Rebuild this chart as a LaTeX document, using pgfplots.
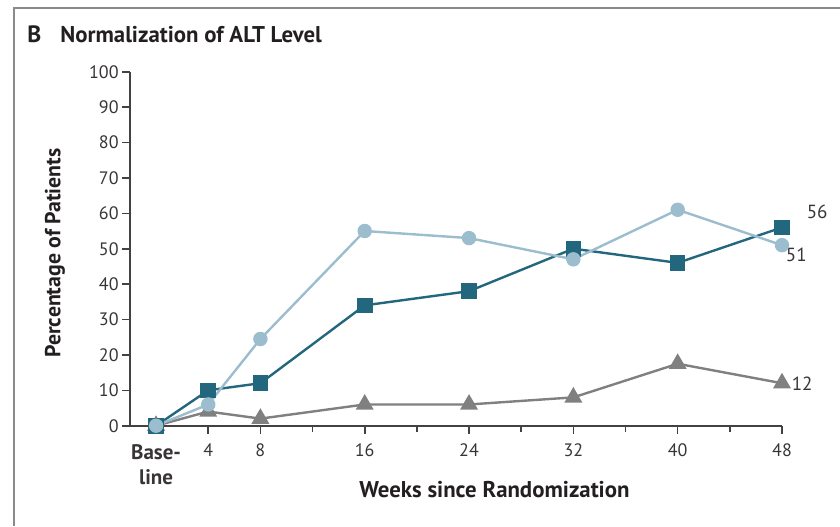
\documentclass[border=0pt]{standalone}
\usepackage{fontspec}
\setmainfont{PT Sans}
\usepackage{pgfplots}
\pgfplotsset{compat=1.18}
\definecolor{lightb}{HTML}{9BBDCD}
\definecolor{tealb}{HTML}{23677F}
\definecolor{grayc}{HTML}{808080}
\definecolor{txt}{HTML}{231F20}
\definecolor{frame}{HTML}{8A8A8A}
\begin{document}
\begin{tikzpicture}
\path[use as bounding box] (0pt,0pt) rectangle (420pt,263pt);
\draw[frame, line width=1.1pt] (7pt,0pt) -- (7pt,259pt) -- (420pt,259pt);
\node[anchor=base west, inner sep=0pt, text=txt, font=\bfseries\fontsize{11.8}{13}\selectfont] at (13.5pt,241.5pt) {B};
\node[anchor=base west, inner sep=0pt, text=txt, font=\bfseries\fontsize{11.4}{13}\selectfont] at (30pt,241.5pt) {Normalization of ALT Level};
\begin{axis}[
  at={(65pt,50.15pt)}, anchor=south west,
  scale only axis, width=326pt, height=177pt,
  xmin=-2, xmax=48, ymin=0, ymax=100,
  axis lines*=left,
  x axis line style={-}, y axis line style={-},
  axis line style={draw=txt!85, line width=0.8pt},
  tick align=outside, tick pos=left,
  major tick length=4pt, minor tick length=3pt,
  tick style={draw=txt!85, line width=0.8pt},
  xtick={0,4,8,16,24,32,40,48},
  xticklabels={{\fontsize{10.5}{13}\selectfont\textbf{Base-}\\[2.5pt]\fontsize{10.5}{13}\selectfont\textbf{line}},4,8,16,24,32,40,48},
  minor xtick={12,20,28,36,44},
  ytick={0,10,...,100},
  /pgf/number format/assume math mode=true,
  xticklabel style={align=center, font=\fontsize{9}{10}\selectfont, text=txt!90, inner sep=1.5pt, yshift=-3.5pt},
  yticklabel style={font=\fontsize{9}{10}\selectfont, text=txt!90, inner sep=1.5pt},
  xlabel={\textbf{Weeks since Randomization}},
  ylabel={\textbf{Percentage of Patients}},
  xlabel style={at={(axis description cs:0.559,0)}, anchor=center, yshift=-32pt, font=\fontsize{11.4}{13}\selectfont, text=txt},
  ylabel style={at={(axis description cs:0,0.488)}, anchor=center, yshift=37.5pt, font=\fontsize{10.9}{13}\selectfont, text=txt},
  clip=false,
]
\addplot[color=grayc, line width=1.2pt, mark=triangle*, mark size=4pt, mark options={solid, fill=grayc, draw=grayc}]
  coordinates {(0,0)(4,4)(8,2)(16,6)(24,6)(32,8)(40,17.5)(48,12)};
\addplot[color=tealb, line width=1.2pt, mark=square*, mark size=3.3pt, mark options={solid, fill=tealb, draw=tealb}]
  coordinates {(0,0)(4,10)(8,12)(16,34)(24,38)(32,50)(40,46)(48,56)};
\addplot[color=lightb, line width=1.2pt, mark=*, mark size=3pt, mark options={solid, fill=lightb, draw=lightb}]
  coordinates {(0,0)(4,6)(8,24.5)(16,55)(24,53)(32,47)(40,61)(48,51)};
\node[font=\fontsize{9.5}{10}\selectfont, text=txt!90] at (axis cs:50.7,60.4) {56};
\node[font=\fontsize{9.5}{10}\selectfont, text=txt!90] at (axis cs:49.1,48.2) {51};
\node[font=\fontsize{9.5}{10}\selectfont, text=txt!90] at (axis cs:49.55,11.8) {12};
\end{axis}
\end{tikzpicture}
\end{document}
